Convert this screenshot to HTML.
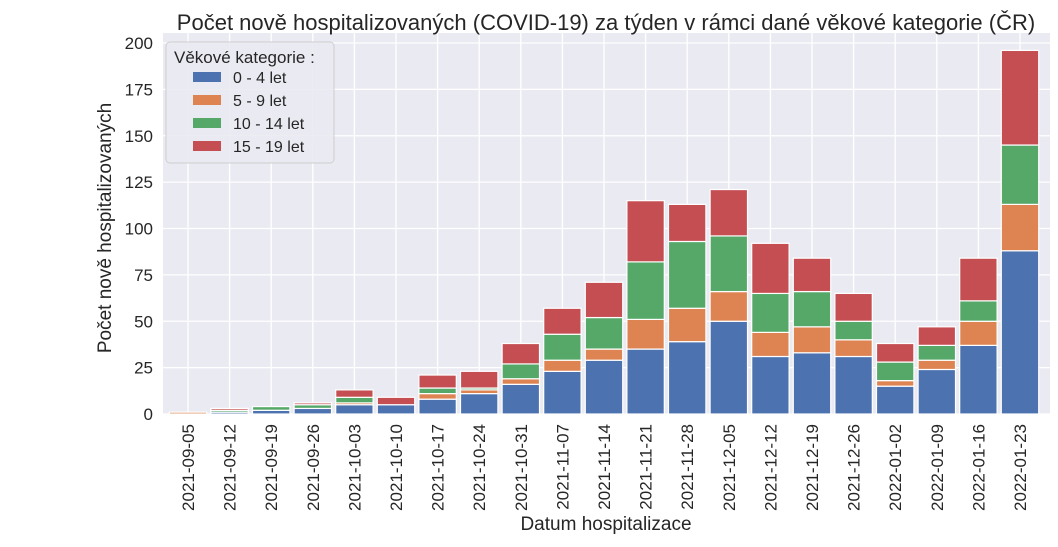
<!DOCTYPE html>
<html><head><meta charset="utf-8"><style>
body{margin:0;background:#fff;font-family:"Liberation Sans","DejaVu Sans",sans-serif;}
svg text{font-family:"Liberation Sans","DejaVu Sans",sans-serif;fill:#262626;}
</style></head><body>
<svg id="chart" width="1058" height="542" xmlns="http://www.w3.org/2000/svg">
<rect x="163" y="33" width="887" height="381" fill="#eaeaf2"/>
<g id="grid"></g><g id="bars"></g><g id="axes"></g>
<text x="606" y="30" font-size="22" text-anchor="middle">Počet nově hospitalizovaných (COVID-19) za týden v rámci dané věkové kategorie (ČR)</text>
<text x="0" y="0" font-size="19" text-anchor="middle" transform="translate(111,228) rotate(-90)">Počet nově hospitalizovaných</text>
<text x="606" y="530" font-size="19" text-anchor="middle">Datum hospitalizace</text>
<g>
<rect x="166" y="42" width="168" height="121" rx="4" fill="#eaeaf2" stroke="#cccccc" opacity="0.9"/>
<text x="174" y="63" font-size="17">Věkové kategorie :</text>
<g id="legend"></g>
</g>
</svg>
<script>
const categories=["2021-09-05","2021-09-12","2021-09-19","2021-09-26","2021-10-03","2021-10-10","2021-10-17","2021-10-24","2021-10-31","2021-11-07","2021-11-14","2021-11-21","2021-11-28","2021-12-05","2021-12-12","2021-12-19","2021-12-26","2022-01-02","2022-01-09","2022-01-16","2022-01-23"];
const age0_4=[0,1,2,3,5,5,8,11,16,23,29,35,39,50,31,33,31,15,24,37,88];
const age5_9=[1,0,0,0,1,0,3,2,3,6,6,16,18,16,13,14,9,3,5,13,25];
const age10_14=[0,1,2,2,3,0,3,1,8,14,17,31,36,30,21,19,10,10,8,11,32];
const age15_19=[0,1,0,1,4,4,7,9,11,14,19,33,20,25,27,18,15,10,10,23,51];
const seriesNames=["0 - 4 let","5 - 9 let","10 - 14 let","15 - 19 let"];
const yTicks=[0,25,50,75,100,125,150,175,200];
const colors=["#4c72b0","#dd8452","#55a868","#c44e52"];
const NS="http://www.w3.org/2000/svg";
const y0=414,yTop=43,yMax=200;
const yScale=v=>y0-(v/yMax)*(y0-yTop);
const step=41.6,firstC=188,bw=37.4;
const xScale=i=>firstC+i*step;
function mk(tag,attrs,parent){const e=document.createElementNS(NS,tag);for(const k in attrs)e.setAttribute(k,attrs[k]);parent.appendChild(e);return e;}
const grid=document.getElementById('grid'),bars=document.getElementById('bars'),axes=document.getElementById('axes'),leg=document.getElementById('legend');
yTicks.forEach(t=>{
 const l=mk('line',{x1:163,x2:1050,y1:yScale(t),y2:yScale(t),stroke:'#fff','stroke-width':1.3},grid);
 
 
 const tx=mk('text',{x:153,y:yScale(t)+6,'font-size':17,'text-anchor':'end'},axes);
 tx.textContent=t;
 
 
});
categories.forEach((c,i)=>{
 const l=mk('line',{x1:xScale(i),x2:xScale(i),y1:33,y2:414,stroke:'#fff','stroke-width':1.3},grid);
 
 
 const tx=mk('text',{x:0,y:0,'font-size':17,'text-anchor':'end',transform:`translate(${xScale(i)+6},424) rotate(-90)`},axes);
 tx.textContent=c;
 
 
});
const series=[age0_4,age5_9,age10_14,age15_19];
categories.forEach((c,i)=>{
 let base=0;
 series.forEach((s,k)=>{
  const v=s[i];
  if(v>0){
   const r=mk('rect',{x:xScale(i)-bw/2,y:yScale(base+v),width:bw,height:yScale(base)-yScale(base+v),fill:colors[k],stroke:'#fff','stroke-width':1.2},bars);
   
   
  }
  base+=v;
 });
});
seriesNames.forEach((n,k)=>{
 const yy=79+k*23;
 const r=mk('rect',{x:193,y:yy-7,width:28,height:10,fill:colors[k]},leg);
 
 
 const t=mk('text',{x:233,y:yy+4,'font-size':16},leg);
 t.textContent=n;
 
 
});
</script>
</body></html>
